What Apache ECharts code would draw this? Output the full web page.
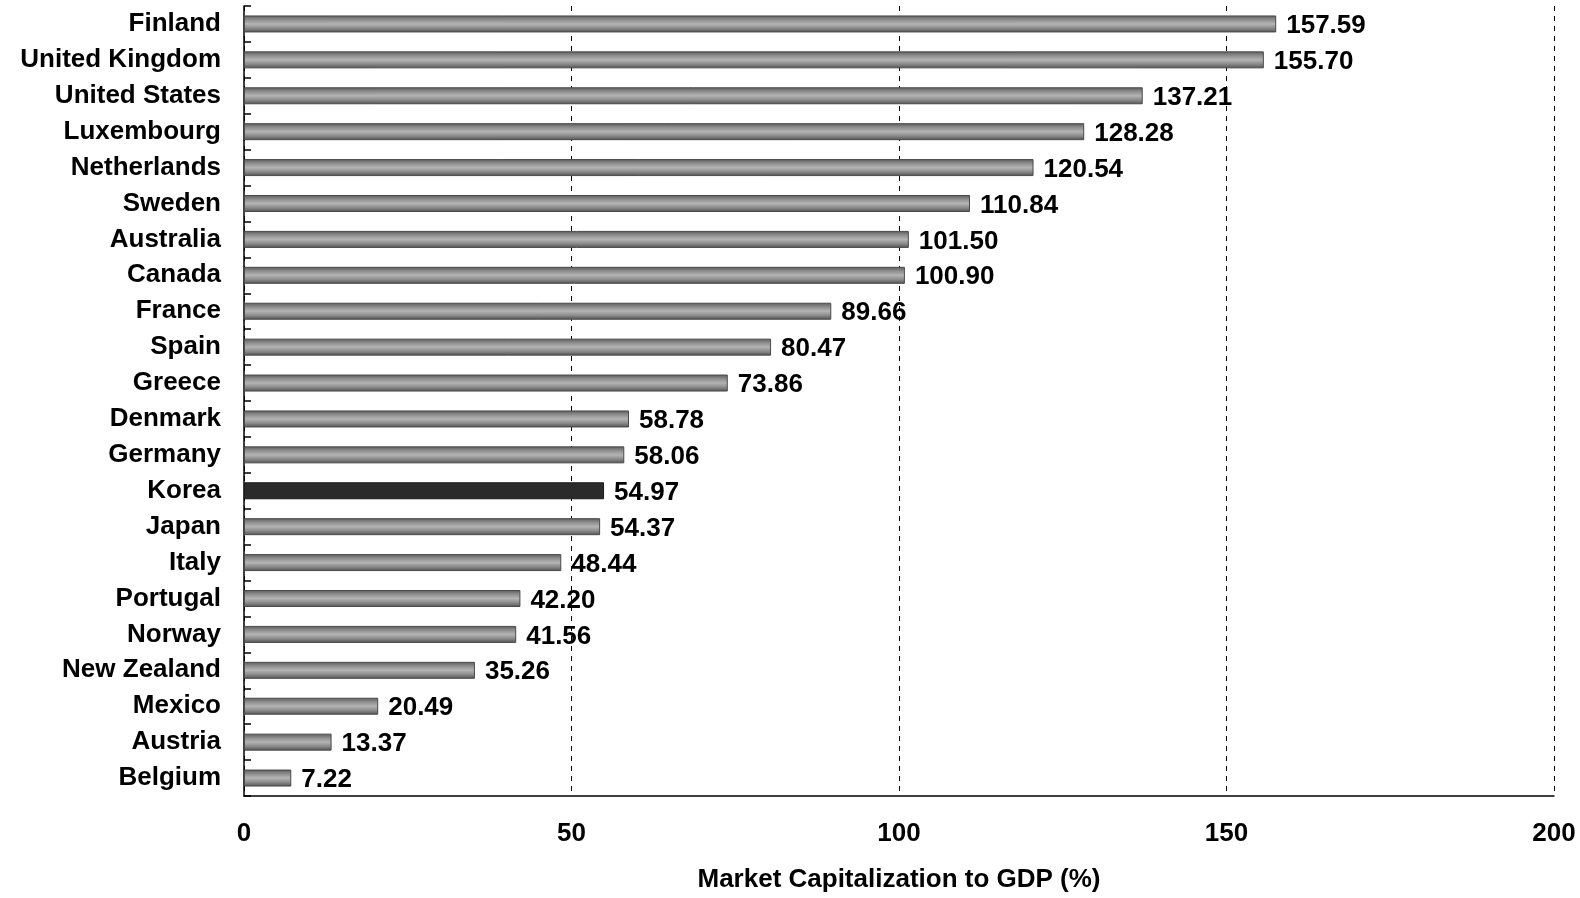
<!DOCTYPE html>
<html>
<head>
<meta charset="utf-8">
<script src="https://cdn.jsdelivr.net/npm/echarts@6/dist/echarts.min.js"></script>
<style>
html,body{margin:0;padding:0;background:#fff;}
#chart{width:1580px;height:898px;}
</style>
</head>
<body>
<div id="chart"></div>
<script>
const countries = ['Finland','United Kingdom','United States','Luxembourg','Netherlands','Sweden','Australia','Canada','France','Spain','Greece','Denmark','Germany','Korea','Japan','Italy','Portugal','Norway','New Zealand','Mexico','Austria','Belgium'];
const values = [157.59,155.70,137.21,128.28,120.54,110.84,101.50,100.90,89.66,80.47,73.86,58.78,58.06,54.97,54.37,48.44,42.20,41.56,35.26,20.49,13.37,7.22];
const highlighted = 'Korea';
const xTicks = [0,50,100,150,200];
const axisTitle = 'Market Capitalization to GDP (%)';

const FONT = '"Liberation Sans", Arial, sans-serif';
const grayBar = new echarts.graphic.LinearGradient(0,0,0,1,[
  {offset:0,color:'#5a5a5a'},
  {offset:0.25,color:'#8e8e8e'},
  {offset:0.5,color:'#b4b4b4'},
  {offset:0.75,color:'#8a8a8a'},
  {offset:1,color:'#505050'}
]);
const chart = echarts.init(document.getElementById('chart'));
chart.setOption({
  animation:false,
  backgroundColor:'#fff',
  grid:{left:244,right:26,top:6,bottom:98,containLabel:false},
  xAxis:{
    type:'value',min:xTicks[0],max:xTicks[xTicks.length-1],interval:50,
    name:axisTitle,nameLocation:'middle',nameGap:71,
    nameTextStyle:{fontFamily:FONT,fontWeight:'bold',fontSize:26,color:'#000'},
    axisLine:{show:true,lineStyle:{color:'#000',width:1.5}},
    axisTick:{show:false},
    axisLabel:{margin:25,fontFamily:FONT,fontWeight:'bold',fontSize:26,color:'#000'},
    splitLine:{show:true,lineStyle:{color:'#000',type:[5,5],width:1}}
  },
  yAxis:{
    type:'category',data:countries,inverse:true,
    axisLine:{show:true,lineStyle:{color:'#000',width:1.5}},
    axisTick:{show:true,inside:true,length:7,lineStyle:{color:'#000',width:1.5}},
    axisLabel:{margin:23,fontFamily:FONT,fontWeight:'bold',fontSize:26,color:'#000'},
    splitLine:{show:false}
  },
  series:[{
    type:'bar',
    barWidth:17,
    data:values.map((v,i)=>({
      value:v,
      itemStyle: countries[i]===highlighted
        ? {color:'#2b2b2b',borderColor:'#1a1a1a',borderWidth:1}
        : {color:grayBar,borderColor:'#4a4a4a',borderWidth:1}
    })),
    label:{
      show:true,position:'right',distance:10,
      formatter:p=>p.value.toFixed(2),
      fontFamily:FONT,fontWeight:'bold',fontSize:26,color:'#000',
      offset:[0,2]
    }
  }]
});
</script>
</body>
</html>
